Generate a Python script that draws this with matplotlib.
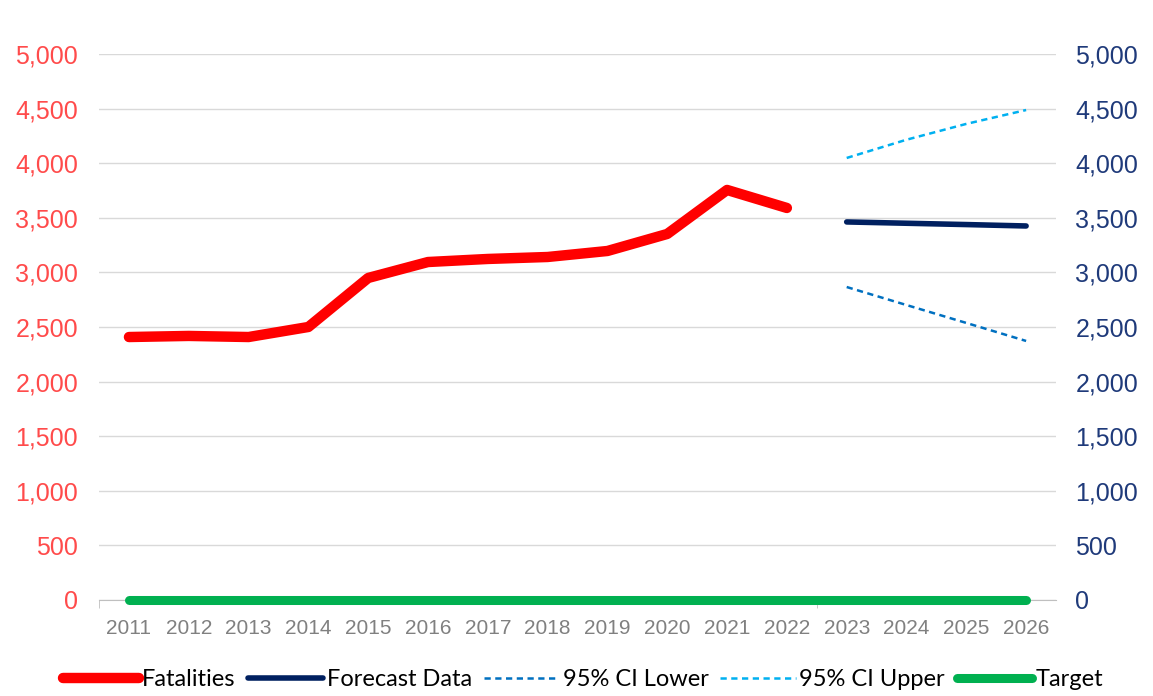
import matplotlib.pyplot as plt
from matplotlib.ticker import FuncFormatter, FixedLocator

years = list(range(2011, 2027))
fatal_years = list(range(2011, 2023))
fatalities = [2408, 2418, 2408, 2500, 2949, 3095, 3123, 3141, 3196, 3352, 3755, 3590]
fc_years = [2023, 2024, 2025, 2026]
forecast = [3462, 3450, 3438, 3425]
ci_lower = [2866, 2701, 2537, 2372]
ci_upper = [4048, 4215, 4360, 4487]
target = [0] * len(years)

plt.rcParams["font.family"] = ["Liberation Sans", "DejaVu Sans"]

fig = plt.figure(figsize=(11.53, 6.96), dpi=100)
ax = fig.add_axes([0.0859, 0.138, 0.83, 0.7844])

idx = {y: i for i, y in enumerate(years)}
xf = [idx[y] for y in fatal_years]
xc = [idx[y] for y in fc_years]
xt = [idx[y] for y in years]

ax.plot(xf, fatalities, color="#FF0000", lw=7.5, solid_capstyle="round",
        solid_joinstyle="round", label="Fatalities", zorder=4)
ax.plot(xc, forecast, color="#002060", lw=4, solid_capstyle="round",
        label="Forecast Data", zorder=4)
ax.plot(xc, ci_lower, color="#0070C0", lw=1.8, ls=(0, (2.5, 1.8)),
        label="95% CI Lower", zorder=3)
ax.plot(xc, ci_upper, color="#00B0F0", lw=1.8, ls=(0, (2.5, 1.8)),
        label="95% CI Upper", zorder=3)
ax.plot(xt, target, color="#00B050", lw=6.5, solid_capstyle="round",
        label="Target", zorder=5, clip_on=False)

ax.set_xlim(-0.5, len(years) - 0.5)
ax.set_ylim(0, 5000)
ax.set_yticks(range(0, 5001, 500))
fmt = FuncFormatter(lambda v, p: f"{int(v):,}")
ax.yaxis.set_major_formatter(fmt)
ax.grid(axis="y", color="#D9D9D9", lw=1)
ax.set_axisbelow(True)
for s in ["top", "left", "right"]:
    ax.spines[s].set_visible(False)
ax.spines["bottom"].set_color("#BFBFBF")

ax.set_xticks(xt)
ax.set_xticklabels([str(y) for y in years], color="#808080", fontsize=15)
ax.tick_params(axis="x", length=0, pad=14)
ax.xaxis.set_minor_locator(FixedLocator([-0.5, 11.5]))
ax.tick_params(axis="x", which="minor", length=6, color="#BFBFBF")
ax.tick_params(axis="y", length=0, labelsize=18, labelcolor="#FF4B4B", pad=15)

ax2 = ax.twinx()
ax2.set_ylim(0, 5000)
ax2.set_yticks(range(0, 5001, 500))
ax2.yaxis.set_major_formatter(fmt)
ax2.tick_params(axis="y", length=0, labelsize=18, labelcolor="#1F3A7A", pad=14)
for s in ax2.spines.values():
    s.set_visible(False)

handles, labels = ax.get_legend_handles_labels()
fig.legend(handles, labels, loc="lower center", ncol=5, frameon=False,
           bbox_to_anchor=(0.506, -0.022), prop={"family": "Lato", "size": 17},
           handlelength=3.2, handletextpad=0.15, columnspacing=0.5)

fig.savefig("out.png", dpi=100)
